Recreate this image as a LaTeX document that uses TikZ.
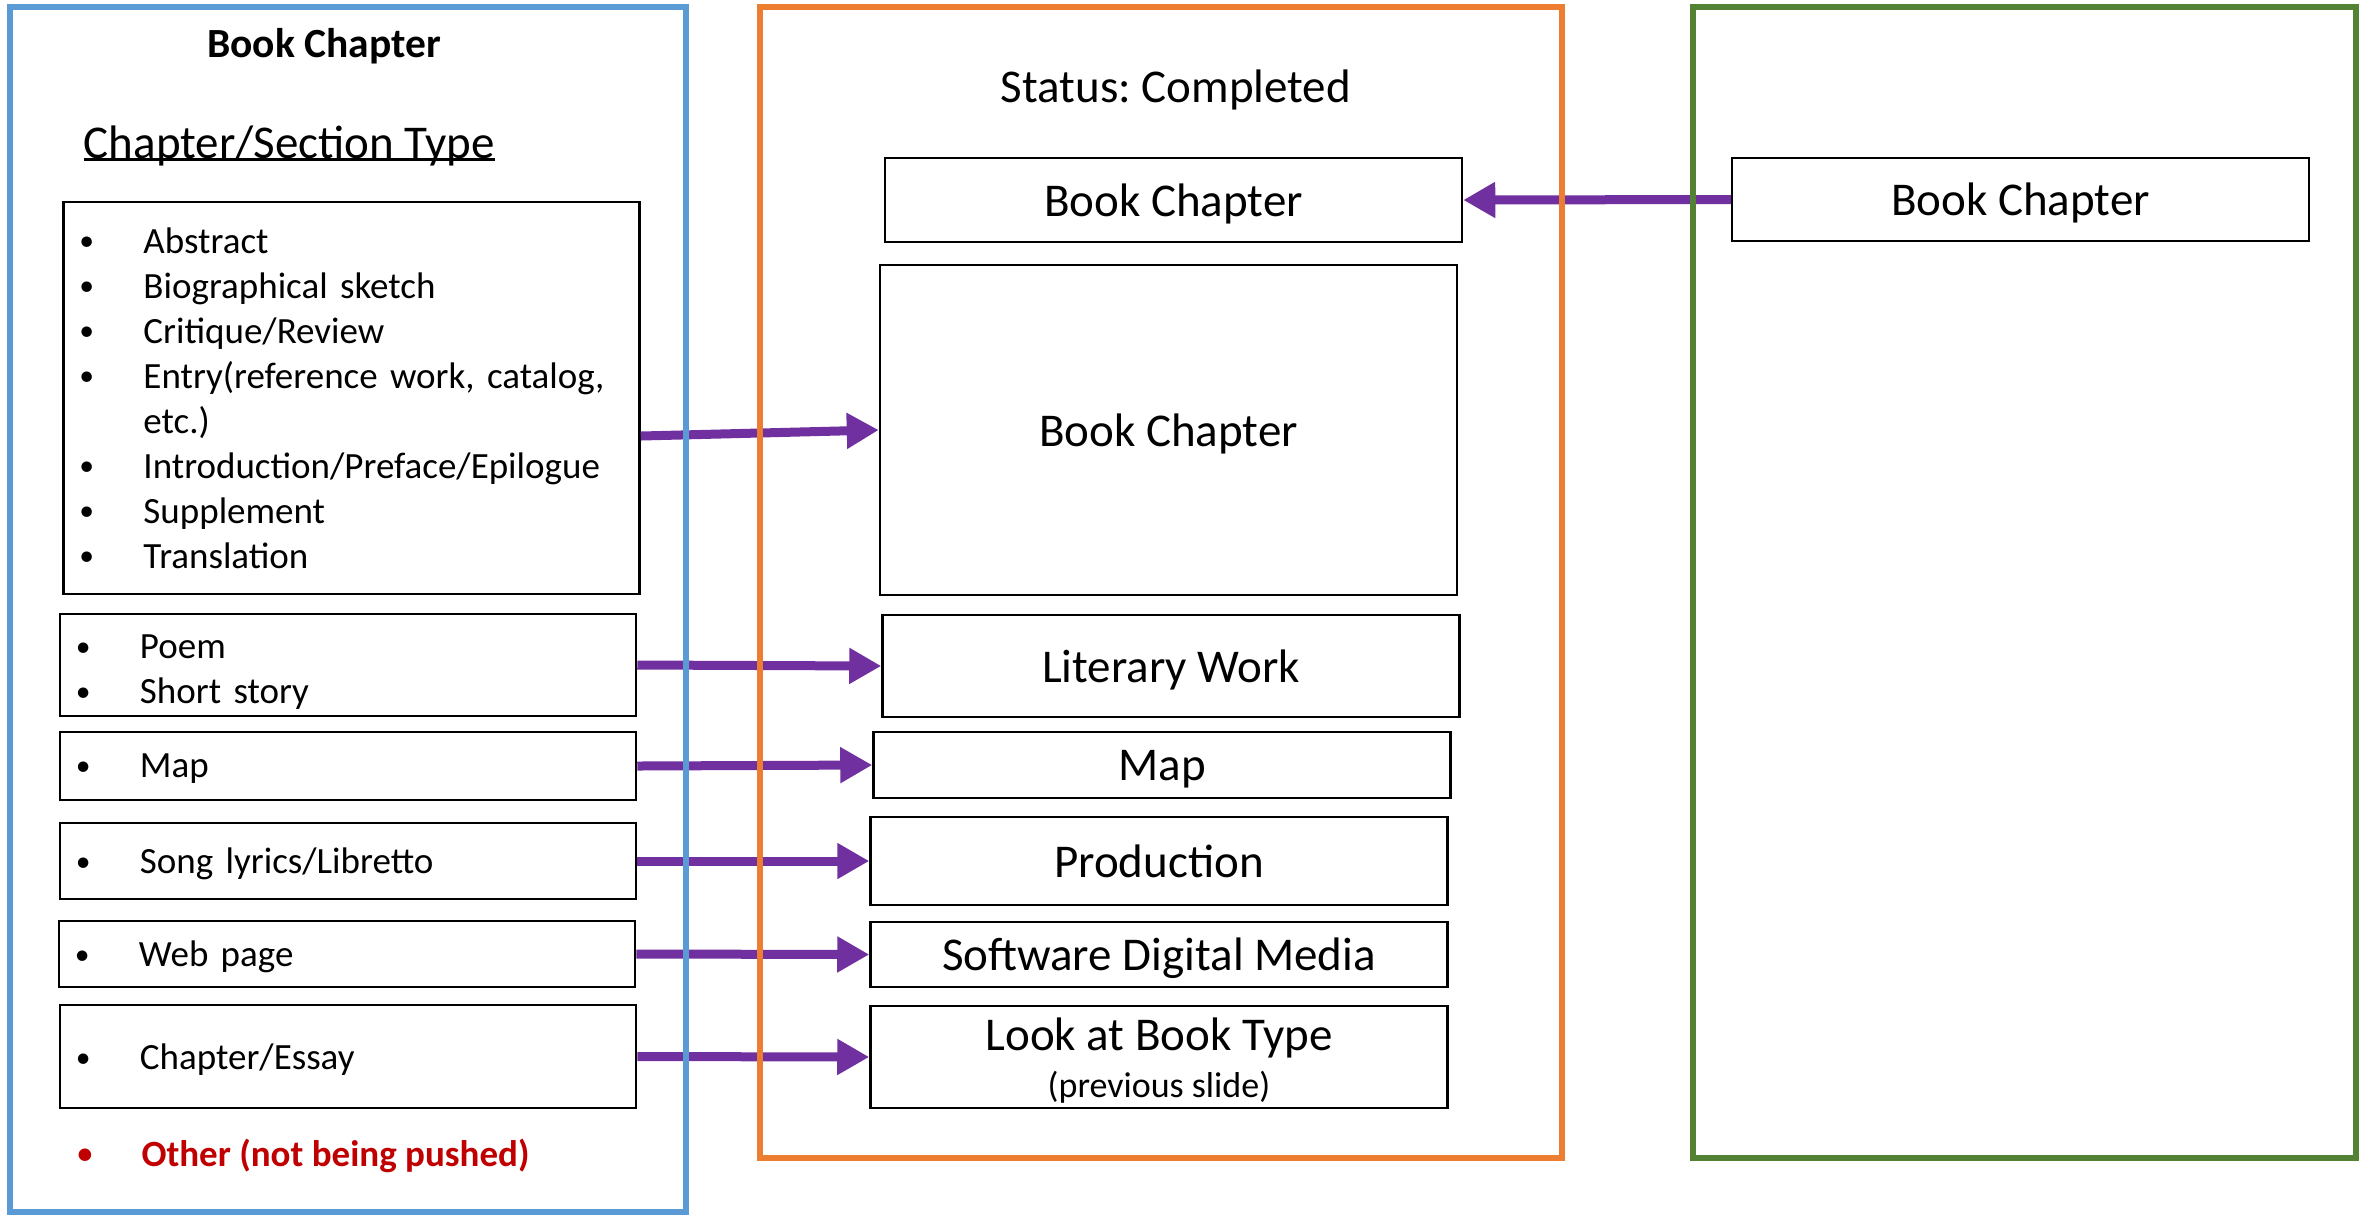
\documentclass[tikz,border=0pt]{standalone}
\usepackage{fontspec}
\setmainfont{Carlito}
\usetikzlibrary{arrows.meta,calc}
\definecolor{fblue}{HTML}{5B9BD5}
\definecolor{forange}{HTML}{ED7D31}
\definecolor{fgreen}{HTML}{548235}
\definecolor{apurple}{HTML}{7030A0}
\definecolor{ored}{HTML}{C00000}
\newcommand{\lbul}{\raisebox{0.9pt}{\scalebox{0.8}{•}}}
\newcommand{\litem}[1]{\makebox[25.6pt][l]{\lbul}#1}
\newcommand{\lcont}[1]{\hspace*{25.6pt}#1}
\newcommand{\myul}[1]{\setbox0\hbox{#1}\rlap{\rule[-1pt]{\wd0}{0.9pt}}\box0}
\frenchspacing
\begin{document}
\begin{tikzpicture}[x=0.4pt,y=-0.4pt,
  frame/.style={draw, line width=2.4pt, rectangle, inner sep=0pt},
  lbox/.style={draw, line width=1pt, rectangle, inner xsep=6.4pt, inner ysep=0pt,
    align=left, text width=217.6pt, minimum width=230.4pt, text depth=0pt,
    font=\fontsize{14.8}{18}\selectfont\frenchspacing},
  mbox/.style={draw, line width=1pt, rectangle, inner sep=0pt, align=center,
    minimum width=230.8pt, text depth=0pt, font=\fontsize{18.8}{22.6}\selectfont\frenchspacing},
  arr/.style={draw=apurple, line width=3.6pt, -{Triangle[length=12.8pt,width=13.6pt]}},
]
\useasboundingbox (0,0) rectangle (2366,1216);

% left column texts
\node[anchor=base, inner sep=0pt, font=\fontsize{16.6}{20}\selectfont\bfseries] (hdr) at (324,57) {Book Chapter};
\node[anchor=base, inner sep=0pt, font=\fontsize{18.8}{22.6}\selectfont] (sect) at (289.5,158) {\myul{Chapter/Section Type}};

% left boxes
\node[lbox, minimum height=156.8pt, text depth=] (b1) at (351.5,398) {%
  \litem{Abstract}\\
  \litem{Biographical sketch}\\
  \litem{Critique/Review}\\
  \litem{Entry(reference work, catalog,}\\
  \lcont{etc.)}\\
  \litem{Introduction/Preface/Epilogue}\\
  \litem{Supplement}\\
  \litem{Translation}};
\node[lbox, minimum height=40.8pt] (b2) at (348,665) {\begin{tabular}[b]{@{}l@{}}\litem{Poem}\\ \litem{Short story}\end{tabular}};
\node[lbox, minimum height=27.2pt] (b3) at (348,766) {\litem{Map}};
\node[lbox, minimum height=30.4pt] (b4) at (348,861) {\litem{Song lyrics/Libretto}};
\node[lbox, minimum height=26.4pt] (b5) at (347,954) {\litem{Web page}};
\node[lbox, minimum height=41.2pt] (b6) at (348,1056.5) {\litem{Chapter/Essay}};
\node[anchor=base west, inner sep=0pt, text=ored, font=\fontsize{14.8}{18}\selectfont\bfseries] (other) at (77,1166) {\litem{Other (not being pushed)}};

% middle column
\node[anchor=base, inner sep=0pt, font=\fontsize{18.8}{22.6}\selectfont\frenchspacing] (status) at (1176,102) {Status: Completed};
\node[mbox, minimum height=33.6pt] (m0) at (1173.5,200) {Book Chapter};
\node[mbox, minimum height=132pt] (m1) at (1168.5,430) {Book Chapter};
\node[mbox, minimum height=40.8pt] (m2) at (1171,666) {Literary Work};
\node[mbox, minimum height=26.4pt] (m3) at (1162,765) {Map};
\node[mbox, minimum height=35.2pt] (m4) at (1159,861) {Production};
\node[mbox, minimum height=26pt] (m5) at (1159,954.5) {Software Digital Media};
\node[mbox, minimum height=40.8pt, text depth=2.4pt] (m6) at (1159,1057) {\begin{tabular}[b]{@{}c@{}}Look at Book Type\\[-3.8pt]{\fontsize{14.4}{17}\selectfont(previous slide)}\end{tabular}};

% right column
\node[mbox, minimum height=33.2pt] (r0) at (2020.5,199.5) {Book Chapter};

% connectors
\draw[arr] (r0.west) -- (m0.east);
\draw[arr] ($(b1.east)+(0,38)$) -- (m1.west);
\draw[arr] (b2.east) -- (m2.west);
\draw[arr] (b3.east) -- (m3.west);
\draw[arr] (b4.east) -- (m4.west);
\draw[arr] (b5.east) -- (m5.west);
\draw[arr] (b6.east) -- (m6.west);

% frames
\node[frame, draw=fblue, minimum width=270.4pt, minimum height=482pt] (fb) at (348,609.5) {};
\node[frame, draw=forange, minimum width=320.8pt, minimum height=460.4pt] (fo) at (1161,582.5) {};
\node[frame, draw=fgreen, minimum width=265.2pt, minimum height=460.4pt] (fg) at (2024.5,582.5) {};
\end{tikzpicture}
\end{document}
